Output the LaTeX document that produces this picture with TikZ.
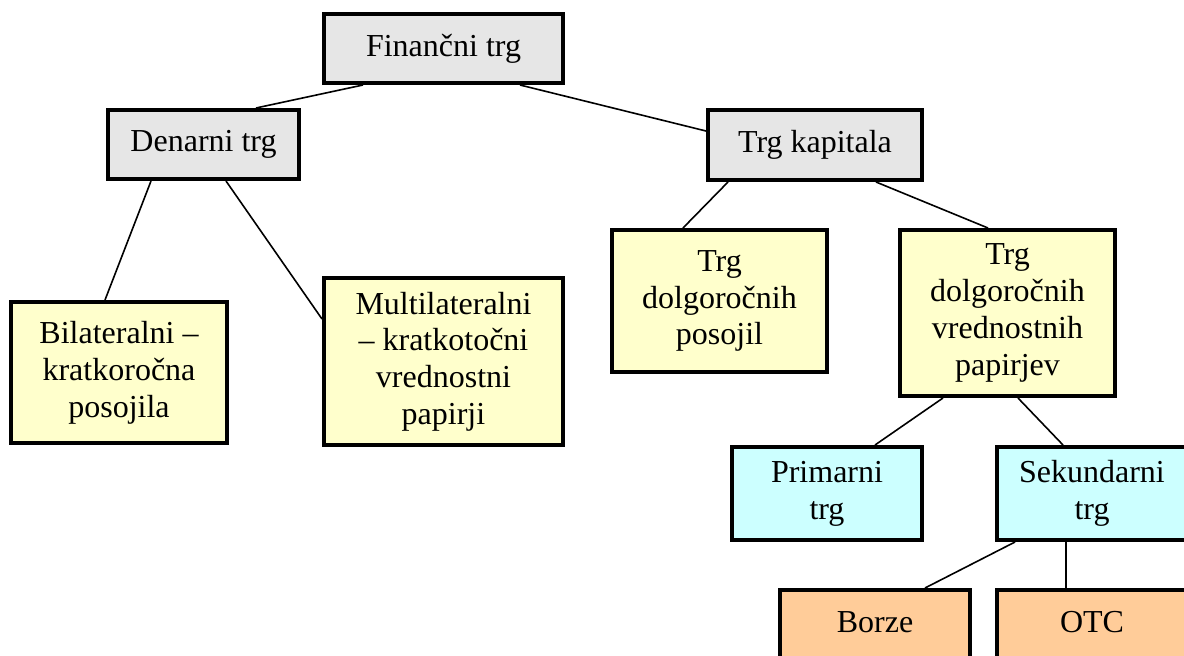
\documentclass[tikz,border=0pt]{standalone}
\usepackage{fontspec}
\setmainfont{Liberation Serif}
\usetikzlibrary{calc}
\definecolor{boxgray}{HTML}{E6E6E6}
\definecolor{boxyellow}{HTML}{FFFFCC}
\definecolor{boxcyan}{HTML}{CCFFFF}
\definecolor{boxorange}{HTML}{FFCC99}
\tikzset{
  box/.style={draw=black, line width=4pt, inner sep=0pt, align=center,
    font=\fontsize{32}{36.8}\selectfont, text=black},
  graybox/.style={box, fill=boxgray},
  yellowbox/.style={box, fill=boxyellow},
  cyanbox/.style={box, fill=boxcyan},
  orangebox/.style={box, fill=boxorange},
  link/.style={draw=black, line width=1.6pt}
}
\begin{document}
\begin{tikzpicture}[x=1pt,y=-1pt]
\useasboundingbox (0,0) rectangle (1184,656);
\fill[white] (0,0) rectangle (1184,656);
% nodes
\node[graybox, minimum width=239pt, minimum height=69pt] (fin) at (443.5,48.5) {Finančni trg};
\node[graybox, minimum width=191pt, minimum height=69pt] (den) at (203.5,144.5) {Denarni trg};
\node[graybox, minimum width=214pt, minimum height=70pt] (kap) at (815,145) {Trg kapitala};
\node[yellowbox, minimum width=216pt, minimum height=141pt] (bil) at (119,372.5) {Bilateralni –\\kratkoročna\\posojila};
\node[yellowbox, minimum width=239pt, minimum height=167pt] (mul) at (443.5,361.5) {Multilateralni\\– kratkotočni\\vrednostni\\papirji};
\node[yellowbox, minimum width=215pt, minimum height=142pt] (pos) at (719.5,301) {Trg\\dolgoročnih\\posojil};
\node[yellowbox, minimum width=215pt, minimum height=166pt] (vre) at (1007.5,313) {Trg\\dolgoročnih\\vrednostnih\\papirjev};
\node[cyanbox, minimum width=190pt, minimum height=93pt] (pri) at (827,493.5) {Primarni\\trg};
\node[cyanbox, minimum width=190pt, minimum height=93pt] (sek) at (1092,493.5) {Sekundarni\\trg};
\node[orangebox, minimum width=190pt, minimum height=70pt, text height=21pt, text depth=7pt] (bor) at (875,625) {Borze};
\node[orangebox, minimum width=190pt, minimum height=70pt, text height=21pt, text depth=7pt] (otc) at (1092,625) {OTC};
% connectors
\draw[link] ($(fin.south west)+(41,0)$) -- ($(den.north west)+(150,0)$);
\draw[link] ($(fin.south east)+(-45,0)$) -- ($(kap.north west)+(0,23)$);
\draw[link] ($(den.south west)+(45,0)$) -- ($(bil.north west)+(96,0)$);
\draw[link] ($(den.south west)+(120,0)$) -- ($(mul.north west)+(0,43)$);
\draw[link] ($(kap.south west)+(22,0)$) -- ($(pos.north west)+(73,0)$);
\draw[link] ($(kap.south west)+(170,0)$) -- ($(vre.north west)+(90,0)$);
\draw[link] ($(vre.south west)+(45,0)$) -- ($(pri.north west)+(145,0)$);
\draw[link] ($(vre.south west)+(120,0)$) -- ($(sek.north west)+(68,0)$);
\draw[link] ($(sek.south west)+(20,0)$) -- ($(bor.north west)+(147,0)$);
\draw[link] ($(sek.south west)+(71,0)$) -- ($(otc.north west)+(71,0)$);
\end{tikzpicture}
\end{document}
